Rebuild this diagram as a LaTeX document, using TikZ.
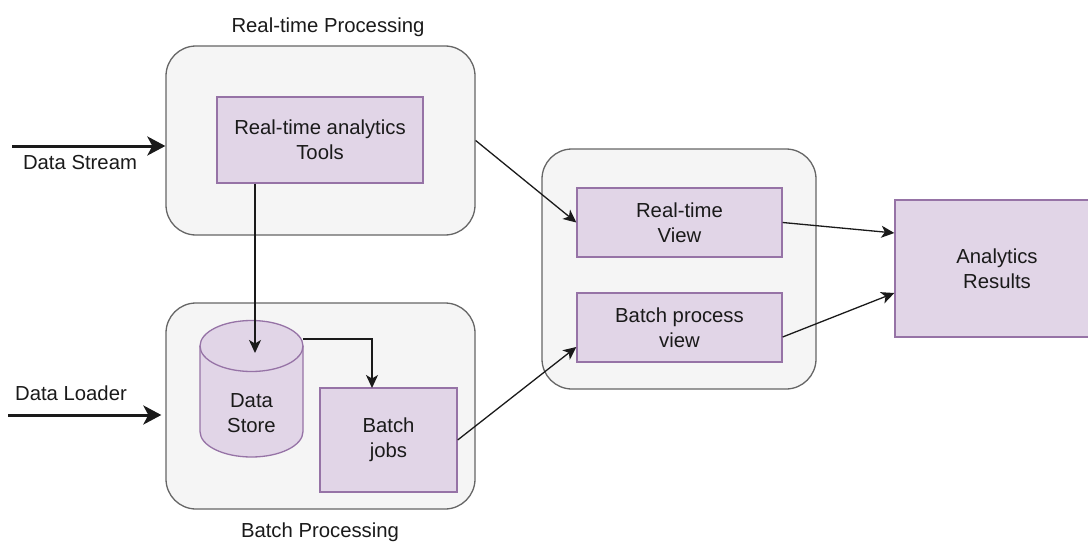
\documentclass[tikz,border=0pt]{standalone}
\usepackage{fontspec}
\setmainfont{Liberation Sans}
\usetikzlibrary{arrows.meta}

\definecolor{grpfill}{HTML}{F5F5F5}
\definecolor{grpline}{HTML}{666666}
\definecolor{boxfill}{HTML}{E1D5E7}
\definecolor{boxline}{HTML}{9673A6}
\definecolor{ink}{HTML}{1A1A1A}

\newcommand\lblfont{\fontsize{20.3}{25}\selectfont}

\begin{document}
\begin{tikzpicture}[x=1pt,y=-1pt,
  group/.style={draw=grpline, fill=grpfill, line width=1.3pt,
    rounded corners=30pt, inner sep=0pt},
  unit/.style={draw=boxline, fill=boxfill, line width=1.3pt,
    inner sep=0pt, align=center, font=\lblfont, text=ink},
  plaintext/.style={inner sep=0pt, align=center, font=\lblfont, text=ink},
  flow/.style={-{Stealth[length=13pt,width=12pt,inset=3.5pt]}, line width=1.3pt, draw=ink},
  feed/.style={-{Stealth[length=18pt,width=19pt,inset=5pt]}, line width=3pt, draw=ink},
]
\useasboundingbox (0,0) rectangle (1088,543);

% containers
\node[group, minimum width=309, minimum height=189] (rtp) at (320.5,140.5) {};
\node[group, minimum width=309, minimum height=206] (bp)  at (320.5,406) {};
\node[group, minimum width=274, minimum height=240] (srv) at (679,269) {};

% container captions
\node[plaintext] (rtpcap) at (328,27)  {Real-time Processing};
\node[plaintext] (bpcap)  at (320,532) {Batch Processing};

% processing units
\node[unit, minimum width=206, minimum height=86]  (tools) at (320,140)     {Real-time analytics\\Tools};
\node[unit, minimum width=137, minimum height=104] (jobs)  at (388.5,440)   {Batch\\jobs};
\node[unit, minimum width=205, minimum height=69]  (rtv)   at (679.5,222.5) {Real-time\\View};
\node[unit, minimum width=205, minimum height=69]  (bpv)   at (679.5,327.5) {Batch process\\view};
\node[unit, minimum width=204, minimum height=137] (res)   at (997,268.5)   {Analytics\\Results};

% data store cylinder
\path[draw=boxline, fill=boxfill, line width=1.3pt]
  (200,346) -- (200,431.5)
  arc[start angle=180, end angle=0, x radius=51.5, y radius=25.5]
  -- (303,346)
  arc[start angle=360, end angle=180, x radius=51.5, y radius=25.5]
  -- cycle;
\draw[boxline, line width=1.3pt]
  (200,346) arc[start angle=180, end angle=0, x radius=51.5, y radius=25.5];
\node[plaintext] (store) at (251.5,413) {Data\\Store};
\coordinate (storetop) at (255,353);
\coordinate (storeside) at (303,339);
\coordinate (jobsin) at (372,388);

% inputs
\coordinate (streamsrc) at (12,146);
\coordinate (loadersrc) at (8,415);
\draw[feed] (streamsrc) -- ([yshift=-5.5pt]rtp.west);
\draw[feed] (loadersrc) -- ([xshift=-4pt,yshift=-9pt]bp.west);
\node[plaintext] (streamlbl) at (80,163) {Data Stream};
\node[plaintext] (loaderlbl) at (71,393) {Data Loader};

% flows
\draw[flow] (tools.south -| storetop) -- (storetop);
\draw[flow] (storeside) -| (jobsin);
\draw[flow] (rtp.east) -- (rtv.west);
\draw[flow] (jobs.east) -- ([yshift=-19.5pt]bpv.west);
\draw[flow] (rtv.east) -- ([yshift=35.5pt]res.west);
\draw[flow] ([yshift=-9.5pt]bpv.east) -- ([yshift=-24.5pt]res.west);
\end{tikzpicture}
\end{document}
